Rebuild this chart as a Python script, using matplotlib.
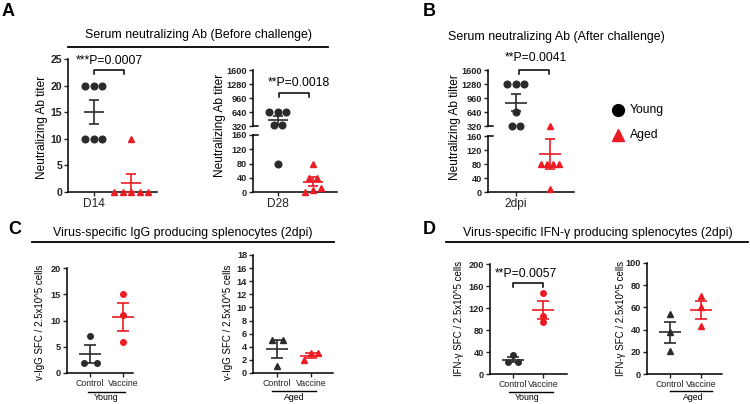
import numpy as np
import matplotlib
matplotlib.use("Agg")
import matplotlib.pyplot as plt
from matplotlib.lines import Line2D

plt.rcParams['font.family'] = ['Liberation Sans', 'DejaVu Sans']

W, H = 750, 404

# ---- data ----
d14_young = [20, 20, 20, 10, 10, 10]
d14_aged = [10, 0, 0, 0, 0, 0]
d28_young = [640, 640, 640, 340, 340, 80]
d28_aged = [80, 40, 40, 10, 5, 0]
dpi2_young = [1280, 1280, 1280, 640, 330, 330]
dpi2_aged = [320, 80, 80, 80, 80, 10]

igg_young_ctrl = [7, 2, 2]
igg_young_vac = [15, 11, 6]
igg_aged_ctrl = [5, 5, 1]
igg_aged_vac = [3, 3, 2]

ifn_young_ctrl = [35, 22, 21]
ifn_young_vac = [148, 105, 95]
ifn_aged_ctrl = [54, 38, 21]
ifn_aged_vac = [70, 60, 43]

groups = ["Control", "Vaccine"]
p_a1, p_a2, p_b, p_d1 = "***P=0.0007", "**P=0.0018", "**P=0.0041", "**P=0.0057"

DARK = "#2b2b2b"
RED = "#ec1c24"

fig = plt.figure(figsize=(W / 100, H / 100), dpi=100)


def rect(x0, x1, y0, y1):
    return [x0 / W, 1 - y1 / H, (x1 - x0) / W, (y1 - y0) / H]


def fx(x):
    return x / W


def fy(y):
    return 1 - y / H


def new_ax(x0, x1, y0, y1, xlim, ylim, yticks, bottom=True, tsize=6.6):
    ax = fig.add_axes(rect(x0, x1, y0, y1))
    ax.set_xlim(xlim)
    ax.set_ylim(ylim)
    ax.set_yticks(yticks)
    ax.spines['top'].set_visible(False)
    ax.spines['right'].set_visible(False)
    ax.spines['left'].set_linewidth(1.1)
    ax.spines['bottom'].set_linewidth(1.1)
    if not bottom:
        ax.spines['bottom'].set_visible(False)
        ax.set_xticks([])
    ax.tick_params(length=3, width=1, labelsize=tsize, pad=1.2, colors='#222222')
    for lab in ax.get_yticklabels():
        lab.set_fontweight('bold')
    ax.patch.set_alpha(0)
    return ax


def spread(vals, tol, step):
    vals = np.asarray(vals, float)
    offs = np.zeros(len(vals))
    clusters = []
    for i in np.argsort(vals):
        if clusters and vals[i] - vals[clusters[-1][-1]] <= tol:
            clusters[-1].append(i)
        else:
            clusters.append([i])
    for c in clusters:
        for k, i in enumerate(c):
            offs[i] = (k - (len(c) - 1) / 2) * step
    return offs


def group(axes, pos, vals, color, marker, step_px, tol, ms=4.8, meanw=14.5, cap=3.8):
    vals = np.asarray(vals, float)
    mean = vals.mean()
    sem = vals.std(ddof=1) / np.sqrt(len(vals))
    for ax in axes:
        lo, hi = ax.get_ylim()
        ppu = ax.bbox.width / (ax.get_xlim()[1] - ax.get_xlim()[0])
        offs = spread(vals, tol, step_px / ppu)
        keep = (vals >= lo - 1e-9) & (vals <= hi + 1e-9)
        ax.plot(pos + offs[keep], vals[keep], ls='none', marker=marker, ms=ms,
                color=color, mec=color, clip_on=False, zorder=3)
        if lo <= mean <= hi:
            ax.errorbar([pos], [mean], yerr=[sem], fmt='none', ecolor=color,
                        elinewidth=1.2, capsize=cap, capthick=1.2, zorder=4)
            ax.plot([pos], [mean], marker='_', ms=meanw, mew=1.2, color=color, zorder=4)


def bracket(ax, x0, x1, y, leg, text, tx, ty, size=8.7):
    ax.plot([x0, x0, x1, x1], [y - leg, y, y, y - leg], color='k', lw=1.1, clip_on=False)
    ax.text(tx, ty, text, ha='center', va='center', fontsize=size, clip_on=False)


def break_marks(ax_top, ax_bot):
    for ax, yy in ((ax_top, 0), (ax_bot, 1)):
        w = ax.bbox.width
        ax.plot([0, 5 / w], [yy, yy], transform=ax.transAxes, color='k', lw=1.1,
                clip_on=False)


def ftext(x, y, s, **kw):
    fig.text(fx(x), fy(y), s, **kw)


def fline(x0, x1, y, lw=1.3):
    fig.add_artist(Line2D([fx(x0), fx(x1)], [fy(y), fy(y)], color='k', lw=lw))


TITLE = 8.9
YLAB = 8.6
SMALL = 6.3
SLAB = 7.0

# ---- panel A ----
ftext(8, 12, "A", fontsize=13, fontweight='bold', ha='center', va='center')
ftext(199, 35, "Serum neutralizing Ab (Before challenge)", fontsize=TITLE, ha='center', va='center')
fline(68, 328, 47)

a1 = new_ax(68, 157, 59, 192, (-0.7, 1.7), (0, 25), range(0, 26, 5), tsize=7.6)
a1.set_xticks([0])
a1.set_xticklabels(["D14"], fontsize=8.6)
group([a1], 0, d14_young, DARK, 'o', 8.5, 0.5)
group([a1], 1, d14_aged, RED, '^', 8.5, 0.5)
bracket(a1, 0, 0.82, 22.9, 0.8, p_a1, 0.42, 24.7)
ftext(42, 127, "Neutralizing Ab titer", fontsize=YLAB, rotation=90, ha='center', va='center')

a2t = new_ax(253, 337, 70, 126, (-0.71, 1.69), (320, 1600), [320, 640, 960, 1280, 1600], bottom=False)
a2b = new_ax(253, 337, 135, 192, (-0.71, 1.69), (0, 160), [0, 40, 80, 120, 160])
a2b.set_xticks([0])
a2b.set_xticklabels(["D28"], fontsize=8.6)
group([a2t, a2b], 0, d28_young, DARK, 'o', 8.5, 40)
group([a2t, a2b], 1, d28_aged, RED, '^', 8, 12)
bracket(a2t, 0.03, 0.88, 1074, 90, p_a2, 0.6, 1300)
break_marks(a2t, a2b)
ftext(220, 125, "Neutralizing Ab titer", fontsize=YLAB, rotation=90, ha='center', va='center')

# ---- panel B ----
ftext(429, 12, "B", fontsize=13, fontweight='bold', ha='center', va='center')
ftext(556, 37, "Serum neutralizing Ab (After challenge)", fontsize=TITLE, ha='center', va='center')

bt = new_ax(488, 574, 70, 126, (-0.82, 1.71), (320, 1600), [320, 640, 960, 1280, 1600], bottom=False)
bb = new_ax(488, 574, 136, 192, (-0.82, 1.71), (0, 160), [0, 40, 80, 120, 160])
bb.set_xticks([0])
bb.set_xticklabels(["2dpi"], fontsize=8.6)
group([bt, bb], 0, dpi2_young, DARK, 'o', 8.5, 40, meanw=16)
group([bt, bb], 1, dpi2_aged, RED, '^', 6, 12, meanw=16)
bracket(bt, 0.08, 0.97, 1600, 90, p_b, 0.59, 1880)
break_marks(bt, bb)
ftext(455, 127, "Neutralizing Ab tilter", fontsize=YLAB, rotation=90, ha='center', va='center')

# legend
fig.add_artist(Line2D([fx(618)], [fy(110)], marker='o', ms=8.5, color='k', ls='none'))
fig.add_artist(Line2D([fx(618)], [fy(135)], marker='^', ms=8.5, color=RED, ls='none'))
ftext(630, 110, "Young", fontsize=8.7, ha='left', va='center')
ftext(630, 135, "Aged", fontsize=8.7, ha='left', va='center')

# ---- panel C ----
ftext(15, 230, "C", fontsize=13, fontweight='bold', ha='center', va='center')
ftext(183, 233, "Virus-specific IgG producing splenocytes (2dpi)", fontsize=TITLE, ha='center', va='center')
fline(32, 334, 242)

c1 = new_ax(67, 133, 268, 373, (-0.7, 1.3), (0, 20), range(0, 21, 5))
c1.set_xticks([0, 1])
c1.set_xticklabels(groups, fontsize=SMALL)
group([c1], 0, igg_young_ctrl, DARK, 'o', 13, 0.5, ms=4, meanw=16, cap=4.3)
group([c1], 1, igg_young_vac, RED, 'o', 13, 0.5, ms=4, meanw=16, cap=4.3)
ftext(40, 322, "v-IgG SFC / 2.5x10^5 cells", fontsize=SLAB, rotation=90, ha='center', va='center')
fline(88, 125, 392, lw=1)
ftext(106, 398, "Young", fontsize=SMALL, ha='center', va='center')

c2 = new_ax(253, 333, 255, 373, (-0.71, 1.65), (0, 18), range(0, 19, 2))
c2.set_xticks([0, 1])
c2.set_xticklabels(groups, fontsize=SMALL)
group([c2], 0, igg_aged_ctrl, DARK, '^', 11, 0.5, ms=4, meanw=16, cap=4.3)
group([c2], 1, igg_aged_vac, RED, '^', 7, 1.5, ms=4, meanw=16, cap=4.3)
ftext(228, 322, "v-IgG SFC / 2.5x10^5 cells", fontsize=SLAB, rotation=90, ha='center', va='center')
fline(272, 316, 391, lw=1)
ftext(294, 397, "Aged", fontsize=SMALL, ha='center', va='center')

# ---- panel D ----
ftext(429, 230, "D", fontsize=13, fontweight='bold', ha='center', va='center')
ftext(598, 233, "Virus-specific IFN-γ producing splenocytes (2dpi)", fontsize=TITLE, ha='center', va='center')
fline(446, 748, 242)

d1 = new_ax(490, 567, 264, 374, (-0.77, 1.8), (0, 200), range(0, 201, 40))
d1.set_xticks([0, 1])
d1.set_xticklabels(groups, fontsize=SMALL)
group([d1], 0, ifn_young_ctrl, DARK, 'o', 10, 2, ms=4, meanw=16, cap=4.3)
group([d1], 1, ifn_young_vac, RED, 'o', 10, 2, ms=4, meanw=16, cap=4.3)
bracket(d1, 0, 1, 165, 7, p_d1, 0.43, 181)
ftext(459, 318, "IFN-γ SFC / 2.5x10^5 cells", fontsize=SLAB, rotation=90, ha='center', va='center')
fline(509, 553, 392, lw=1)
ftext(527, 398, "Young", fontsize=SMALL, ha='center', va='center')

d2 = new_ax(647, 722, 263, 374, (-0.74, 1.68), (0, 100), range(0, 101, 20))
d2.set_xticks([0, 1])
d2.set_xticklabels(groups, fontsize=SMALL)
group([d2], 0, ifn_aged_ctrl, DARK, '^', 10, 0.5, ms=4, meanw=16, cap=4.3)
group([d2], 1, ifn_aged_vac, RED, '^', 10, 0.5, ms=4, meanw=16, cap=4.3)
ftext(621, 318, "IFN-γ SFC / 2.5x10^5 cells", fontsize=SLAB, rotation=90, ha='center', va='center')
fline(670, 712, 391, lw=1)
ftext(693, 397, "Aged", fontsize=SMALL, ha='center', va='center')

fig.savefig("out.png", dpi=100)
